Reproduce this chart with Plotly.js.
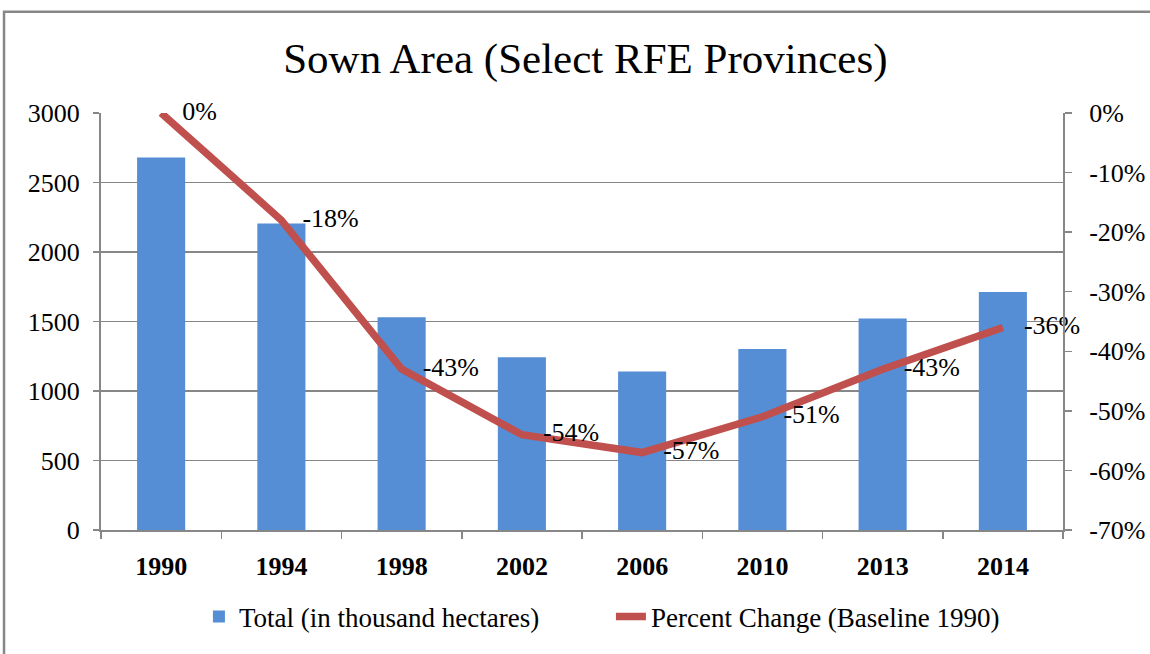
<!DOCTYPE html>
<html>
<head>
<meta charset="utf-8">
<script src="https://cdn.plot.ly/plotly-3.0.1.min.js"></script>
<style>
  html, body { margin: 0; padding: 0; background: #fff; }
  #chart { width: 1150px; height: 654px; }
</style>
</head>
<body>
<div id="chart"></div>
<script>
// ---- data ----
var years = ["1990", "1994", "1998", "2002", "2006", "2010", "2013", "2014"];
var totalArea = [2680, 2205, 1530, 1243, 1140, 1303, 1522, 1712];
var percentChange = [0, -0.18, -0.43, -0.54, -0.57, -0.51, -0.43, -0.36];
var leftTicks = [0, 500, 1000, 1500, 2000, 2500, 3000];
var rightTicks = [0, -0.1, -0.2, -0.3, -0.4, -0.5, -0.6, -0.7];

function pct(v) { return Math.round(v * 100) + "%"; }

var FONT = "Liberation Serif";
var GRID = "#878787";

var bars = {
  type: "bar",
  name: "Total (in thousand hectares)",
  x: years,
  y: totalArea,
  marker: { color: "#558ED5" },
  width: 0.4
};

var line = {
  type: "scatter",
  mode: "lines+markers+text",
  name: "Percent Change (Baseline 1990)",
  x: years,
  y: percentChange,
  yaxis: "y2",
  line: { color: "#C0504D", width: 7.5 },
  marker: { size: 32, color: "rgba(0,0,0,0)" },
  text: percentChange.map(pct),
  textposition: "middle right",
  textfont: { family: FONT, size: 26, color: "#000" },
  cliponaxis: false
};

var layout = {
  width: 1150,
  height: 654,
  margin: { l: 101, r: 87, t: 113, b: 119 },
  paper_bgcolor: "#fff",
  plot_bgcolor: "#fff",
  font: { family: FONT, color: "#000" },
  title: {
    text: "Sown Area (Select RFE Provinces)",
    font: { family: FONT, size: 43, color: "#000" },
    x: 0.509, xref: "container", xanchor: "center",
    y: 0.911, yref: "container", yanchor: "middle"
  },
  xaxis: {
    type: "category",
    range: [-0.5, 7.5],
    autorange: false,
    showline: true, linecolor: GRID, linewidth: 2,
    ticks: "outside", tickson: "boundaries", ticklen: 7, tickcolor: GRID, tickwidth: 1.5,
    tickfont: { family: FONT, size: 26, color: "#000", weight: "bold" },
    ticklabelstandoff: 12,
    showgrid: false, zeroline: false
  },
  yaxis: {
    range: [0, 3000],
    autorange: false,
    tickvals: leftTicks,
    ticktext: leftTicks.map(String),
    showline: true, linecolor: GRID, linewidth: 2,
    ticks: "outside", ticklen: 6, tickcolor: GRID, tickwidth: 1.5,
    tickfont: { family: FONT, size: 26, color: "#000" },
    ticklabelstandoff: 8,
    showgrid: true, gridcolor: GRID, gridwidth: 1.5,
    zeroline: false
  },
  yaxis2: {
    overlaying: "y",
    side: "right",
    range: [-0.7, 0],
    autorange: false,
    tickvals: rightTicks,
    ticktext: rightTicks.map(pct),
    showline: true, linecolor: GRID, linewidth: 2,
    ticks: "outside", ticklen: 7, tickcolor: GRID, tickwidth: 1.5,
    tickfont: { family: FONT, size: 26, color: "#000" },
    ticklabelstandoff: 12,
    showgrid: false, zeroline: false
  },
  showlegend: true,
  legend: {
    orientation: "h",
    x: 0.1018, xanchor: "left",
    y: -0.2085, yanchor: "middle",
    font: { family: FONT, size: 27, color: "#000" },
    bgcolor: "rgba(0,0,0,0)",
    entrywidth: 367,
    entrywidthmode: "pixels"
  },
  shapes: [{
    type: "path",
    xref: "paper", yref: "paper",
    path: "M -0.1008,-0.4 L -0.1008,1.2429 L 1.2,1.2429",
    line: { color: "#878787", width: 2.5 },
    layer: "above"
  }]
};

Plotly.newPlot("chart", [bars, line], layout, { displayModeBar: false, staticPlot: true });
</script>
</body>
</html>
